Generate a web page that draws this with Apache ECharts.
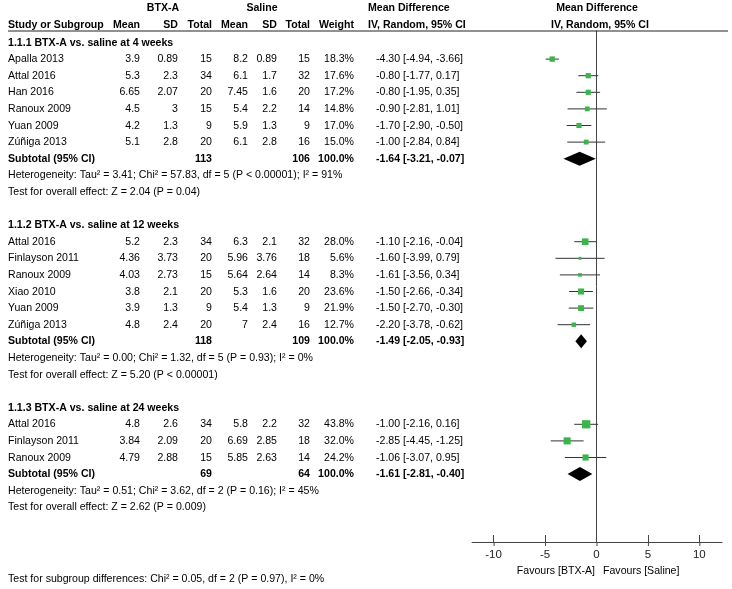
<!DOCTYPE html>
<html><head><meta charset="utf-8">
<script src="https://cdn.jsdelivr.net/npm/echarts@6/dist/echarts.min.js"></script>
<style>html,body{margin:0;padding:0;background:#fff}#chart{width:732px;height:589px}</style>
</head><body><div id="chart"></div>
<script>
// ---------- data ----------
const groupTitles = ['1.1.1 BTX-A vs. saline at 4 weeks', '1.1.2 BTX-A vs. saline at 12 weeks', '1.1.3 BTX-A vs. saline at 24 weeks'];
const studyNames = ['Apalla 2013','Attal 2016','Han 2016','Ranoux 2009','Yuan 2009','Zúñiga 2013',
  'Attal 2016','Finlayson 2011','Ranoux 2009','Xiao 2010','Yuan 2009','Zúñiga 2013',
  'Attal 2016','Finlayson 2011','Ranoux 2009'];
const studyGroup = [0,0,0,0,0,0, 1,1,1,1,1,1, 2,2,2];
const btxMean = [3.9,5.3,6.65,4.5,4.2,5.1, 5.2,4.36,4.03,3.8,3.9,4.8, 4.8,3.84,4.79];
const btxSD = [0.89,2.3,2.07,3,1.3,2.8, 2.3,3.73,2.73,2.1,1.3,2.4, 2.6,2.09,2.88];
const btxTotal = [15,34,20,15,9,20, 34,20,15,20,9,20, 34,20,15];
const salMean = [8.2,6.1,7.45,5.4,5.9,6.1, 6.3,5.96,5.64,5.3,5.4,7, 5.8,6.69,5.85];
const salSD = [0.89,1.7,1.6,2.2,1.3,2.8, 2.1,3.76,2.64,1.6,1.3,2.4, 2.2,2.85,2.63];
const salTotal = [15,32,20,14,9,16, 32,18,14,20,9,16, 32,18,14];
const weights = [18.3,17.6,17.2,14.8,17.0,15.0, 28.0,5.6,8.3,23.6,21.9,12.7, 43.8,32.0,24.2];
const meanDiff = [-4.30,-0.80,-0.80,-0.90,-1.70,-1.00, -1.10,-1.60,-1.61,-1.50,-1.50,-2.20, -1.00,-2.85,-1.06];
const ciLow = [-4.94,-1.77,-1.95,-2.81,-2.90,-2.84, -2.16,-3.99,-3.56,-2.66,-2.70,-3.78, -2.16,-4.45,-3.07];
const ciHigh = [-3.66,0.17,0.35,1.01,-0.50,0.84, -0.04,0.79,0.34,-0.34,-0.30,-0.62, 0.16,-1.25,0.95];

const subBtxTotal = [113,118,69];
const subSalTotal = [106,109,64];
const subMeanDiff = [-1.64,-1.49,-1.61];
const subLow = [-3.21,-2.05,-2.81];
const subHigh = [-0.07,-0.93,-0.40];
const heterogeneity = [
  'Heterogeneity: Tau² = 3.41; Chi² = 57.83, df = 5 (P < 0.00001); I² = 91%',
  'Heterogeneity: Tau² = 0.00; Chi² = 1.32, df = 5 (P = 0.93); I² = 0%',
  'Heterogeneity: Tau² = 0.51; Chi² = 3.62, df = 2 (P = 0.16); I² = 45%'];
const overallEffect = [
  'Test for overall effect: Z = 2.04 (P = 0.04)',
  'Test for overall effect: Z = 5.20 (P < 0.00001)',
  'Test for overall effect: Z = 2.62 (P = 0.009)'];
const subgroupTest = 'Test for subgroup differences: Chi² = 0.05, df = 2 (P = 0.97), I² = 0%';
const xTicks = [-10, -5, 0, 5, 10];
const favoursLeft = 'Favours [BTX-A]';
const favoursRight = 'Favours [Saline]';

// ---------- layout ----------
const ROW0 = 42.5, ROWH = 16.6;
const rowFromPx = px => (px - ROW0) / ROWH;
const FONT = '"Liberation Sans",Arial,sans-serif';
const FS = 11.5;
const SX = 0.92;
const colRight = [140, 178, 212, 248, 277, 310, 354];
const ciLeft = 376;

const fmt2 = v => v.toFixed(2);
const ciText = (m, l, h) => fmt2(m) + ' [' + fmt2(l) + ', ' + fmt2(h) + ']';

// build row list
const tableRows = [];
const studyRows = [];
const subRows = [];
let r = 0;
for (let g = 0; g < groupTitles.length; g++) {
  tableRows.push({row: r, kind: 'title', g}); r++;
  for (let i = 0; i < studyNames.length; i++) {
    if (studyGroup[i] !== g) continue;
    tableRows.push({row: r, kind: 'study', i});
    studyRows.push([r, meanDiff[i], ciLow[i], ciHigh[i], weights[i]]);
    r++;
  }
  tableRows.push({row: r, kind: 'sub', g});
  subRows.push([r, subMeanDiff[g], subLow[g], subHigh[g]]);
  r++;
  tableRows.push({row: r, kind: 'het', g}); r++;
  tableRows.push({row: r, kind: 'test', g}); r++;
  r++;
}
tableRows.push({row: rowFromPx(8), kind: 'head1'});
tableRows.push({row: rowFromPx(25), kind: 'head2'});
tableRows.push({row: rowFromPx(571), kind: 'favours'});
tableRows.push({row: rowFromPx(578.5), kind: 'subgroupTest'});

function txt(x, y, s, opts) {
  opts = opts || {};
  return {type: 'text', x: x, y: y, scaleX: SX, style: {
    text: s, fill: '#000', align: opts.align || 'left', verticalAlign: 'middle',
    font: (opts.bold ? 'bold ' : '') + FS + 'px ' + FONT }};
}

function renderTable(params, api) {
  const t = tableRows[params.dataIndex];
  const y = api.coord([0, t.row])[1];
  const ch = [];
  if (t.kind === 'title') {
    ch.push(txt(8, y, groupTitles[t.g], {bold: true}));
  } else if (t.kind === 'study') {
    const i = t.i;
    ch.push(txt(8, y, studyNames[i]));
    const vals = [btxMean[i], btxSD[i], btxTotal[i], salMean[i], salSD[i], salTotal[i]].map(String);
    vals.push(weights[i].toFixed(1) + '%');
    vals.forEach((v, k) => ch.push(txt(colRight[k], y, v, {align: 'right'})));
    ch.push(txt(ciLeft, y, ciText(meanDiff[i], ciLow[i], ciHigh[i])));
  } else if (t.kind === 'sub') {
    const g = t.g;
    ch.push(txt(8, y, 'Subtotal (95% CI)', {bold: true}));
    ch.push(txt(colRight[2], y, String(subBtxTotal[g]), {bold: true, align: 'right'}));
    ch.push(txt(colRight[5], y, String(subSalTotal[g]), {bold: true, align: 'right'}));
    ch.push(txt(colRight[6], y, '100.0%', {bold: true, align: 'right'}));
    ch.push(txt(ciLeft, y, ciText(subMeanDiff[g], subLow[g], subHigh[g]), {bold: true}));
  } else if (t.kind === 'het') {
    ch.push(txt(8, y, heterogeneity[t.g]));
  } else if (t.kind === 'test') {
    ch.push(txt(8, y, overallEffect[t.g]));
  } else if (t.kind === 'head1') {
    ch.push(txt(163, y, 'BTX-A', {bold: true, align: 'center'}));
    ch.push(txt(262, y, 'Saline', {bold: true, align: 'center'}));
    ch.push(txt(368, y, 'Mean Difference', {bold: true}));
    ch.push(txt(597, y, 'Mean Difference', {bold: true, align: 'center'}));
  } else if (t.kind === 'head2') {
    ch.push(txt(8, y, 'Study or Subgroup', {bold: true}));
    ['Mean', 'SD', 'Total', 'Mean', 'SD', 'Total', 'Weight'].forEach((h, k) =>
      ch.push(txt(colRight[k], y, h, {bold: true, align: 'right'})));
    ch.push(txt(368, y, 'IV, Random, 95% CI', {bold: true}));
    ch.push(txt(600, y, 'IV, Random, 95% CI', {bold: true, align: 'center'}));
    const ly = api.coord([0, rowFromPx(31)])[1];
    ch.push({type: 'line', shape: {x1: 8, y1: ly, x2: 728, y2: ly}, style: {stroke: '#222', lineWidth: 1}});
  } else if (t.kind === 'favours') {
    ch.push(txt(595, y, favoursLeft, {align: 'right'}));
    ch.push(txt(603, y, favoursRight));
  } else if (t.kind === 'subgroupTest') {
    ch.push(txt(8, y, subgroupTest));
  }
  return {type: 'group', children: ch};
}

function renderStudy(params, api) {
  const row = api.value(0), md = api.value(1), lo = api.value(2), hi = api.value(3), w = api.value(4);
  const pm = api.coord([md, row]), pl = api.coord([lo, row]), ph = api.coord([hi, row]);
  const s = Math.sqrt(w) * 1.25;
  return {type: 'group', children: [
    {type: 'line', shape: {x1: pl[0], y1: pl[1], x2: ph[0], y2: ph[1]}, style: {stroke: '#333', lineWidth: 1}},
    {type: 'rect', shape: {x: pm[0] - s / 2, y: pm[1] - s / 2, width: s, height: s}, style: {fill: '#3ab54a'}}
  ]};
}

function renderDiamond(params, api) {
  const row = api.value(0), md = api.value(1), lo = api.value(2), hi = api.value(3);
  const pm = api.coord([md, row]), pl = api.coord([lo, row]), ph = api.coord([hi, row]);
  const h = 7;
  return {type: 'polygon', shape: {points: [[pl[0], pm[1]], [pm[0], pm[1] - h], [ph[0], pm[1]], [pm[0], pm[1] + h]]},
    style: {fill: '#000'}};
}

const axisRowBottom = rowFromPx(542);
function renderTickTail(params, api) {
  const p = api.coord([api.value(0), axisRowBottom]);
  return {type: 'line', shape: {x1: p[0] + 0.5, y1: p[1], x2: p[0] + 0.5, y2: p[1] + 4},
    style: {stroke: '#444', lineWidth: 1}};
}

const chart = echarts.init(document.getElementById('chart'), null, {renderer: 'canvas'});
chart.setOption({
  animation: false,
  backgroundColor: '#fff',
  grid: [
    {left: 0, top: 0, width: 732, height: 589},
    {left: 472, top: 31, width: 250, height: 511}
  ],
  xAxis: [
    {gridIndex: 0, type: 'value', min: 0, max: 732, show: false},
    {gridIndex: 1, type: 'value', min: -12.1, max: 12.2, position: 'bottom',
      axisLine: {show: true, onZero: false, lineStyle: {color: '#444', width: 1}},
      axisTick: {show: true, inside: true, length: 7, customValues: xTicks, lineStyle: {color: '#444'}},
      axisLabel: {show: true, customValues: xTicks, margin: 7, color: '#222', fontSize: 11.5, fontFamily: FONT},
      splitLine: {show: false}}
  ],
  yAxis: [
    {gridIndex: 0, type: 'value', min: rowFromPx(0), max: rowFromPx(589), inverse: true, show: false},
    {gridIndex: 1, type: 'value', min: rowFromPx(31), max: axisRowBottom, inverse: true,
      axisLine: {show: true, onZero: true, lineStyle: {color: '#444', width: 1}},
      axisTick: {show: false}, axisLabel: {show: false}, splitLine: {show: false}}
  ],
  series: [
    {type: 'custom', xAxisIndex: 0, yAxisIndex: 0, renderItem: renderTable,
      data: tableRows.map(t => [0, t.row]), encode: {x: 0, y: 1}, silent: true},
    {type: 'custom', xAxisIndex: 1, yAxisIndex: 1, renderItem: renderStudy,
      data: studyRows, encode: {x: [1, 2, 3], y: 0}, silent: true},
    {type: 'custom', xAxisIndex: 1, yAxisIndex: 1, renderItem: renderDiamond,
      data: subRows, encode: {x: [1, 2, 3], y: 0}, silent: true},
    {type: 'custom', xAxisIndex: 1, yAxisIndex: 1, renderItem: renderTickTail, clip: false,
      data: xTicks.map(v => [v]), encode: {x: 0}, silent: true}
  ]
});
</script></body></html>
